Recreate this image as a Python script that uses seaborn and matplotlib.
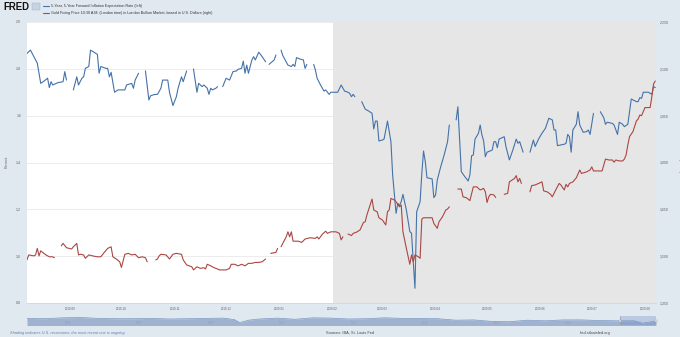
import numpy as np
import pandas as pd
import matplotlib.pyplot as plt
from matplotlib.lines import Line2D
from matplotlib.patches import Rectangle
import seaborn as sns

nan = np.nan

# 5-Year, 5-Year Forward Inflation Expectation Rate (percent, left axis)
infl_dates = [
    '2019-08-07', '2019-08-09', '2019-08-13', '2019-08-15', '2019-08-17', '2019-08-19', '2019-08-20',
    '2019-08-21', '2019-08-22', '2019-08-25', '2019-08-28', '2019-08-29', '2019-08-30',
    '2019-09-01', '2019-09-03', '2019-09-05', '2019-09-06', '2019-09-08', '2019-09-09', '2019-09-10',
    '2019-09-12', '2019-09-13', '2019-09-17', '2019-09-18', '2019-09-19', '2019-09-22', '2019-09-23',
    '2019-09-24', '2019-09-25', '2019-09-27', '2019-09-29',
    '2019-10-03', '2019-10-04', '2019-10-07', '2019-10-08', '2019-10-09', '2019-10-11', '2019-10-13',
    '2019-10-15', '2019-10-17', '2019-10-18', '2019-10-20', '2019-10-22', '2019-10-24', '2019-10-25',
    '2019-10-28', '2019-10-29', '2019-10-31',
    '2019-11-02', '2019-11-03', '2019-11-05', '2019-11-06', '2019-11-08', '2019-11-10', '2019-11-12',
    '2019-11-14', '2019-11-15', '2019-11-17', '2019-11-18', '2019-11-20', '2019-11-21', '2019-11-22',
    '2019-11-23', '2019-11-25', '2019-11-26', '2019-11-28', '2019-11-29',
    '2019-12-01', '2019-12-03', '2019-12-05', '2019-12-07', '2019-12-08', '2019-12-10', '2019-12-11',
    '2019-12-12', '2019-12-13', '2019-12-14', '2019-12-15', '2019-12-16', '2019-12-17', '2019-12-18',
    '2019-12-20', '2019-12-22', '2019-12-24', '2019-12-25', '2019-12-26', '2019-12-29', '2019-12-30',
    '2020-01-01', '2020-01-02', '2020-01-03', '2020-01-06', '2020-01-08', '2020-01-09', '2020-01-10',
    '2020-01-11', '2020-01-13', '2020-01-15', '2020-01-16', '2020-01-17', '2020-01-20', '2020-01-21',
    '2020-01-22', '2020-01-23', '2020-01-25', '2020-01-27', '2020-01-28', '2020-01-30', '2020-01-31',
    '2020-02-04', '2020-02-06', '2020-02-08', '2020-02-10', '2020-02-11', '2020-02-12', '2020-02-13',
    '2020-02-14', '2020-02-17', '2020-02-18', '2020-02-20', '2020-02-22', '2020-02-24', '2020-02-25',
    '2020-02-26', '2020-02-27', '2020-02-28',
    '2020-03-01', '2020-03-02', '2020-03-04', '2020-03-06', '2020-03-07', '2020-03-09', '2020-03-10',
    '2020-03-11', '2020-03-12', '2020-03-13', '2020-03-15', '2020-03-17', '2020-03-18', '2020-03-19',
    '2020-03-20', '2020-03-21', '2020-03-22', '2020-03-23', '2020-03-24', '2020-03-25', '2020-03-26',
    '2020-03-27', '2020-03-30', '2020-03-31',
    '2020-04-01', '2020-04-02', '2020-04-04', '2020-04-06', '2020-04-08', '2020-04-09', '2020-04-10',
    '2020-04-13', '2020-04-14', '2020-04-16', '2020-04-18', '2020-04-20', '2020-04-21', '2020-04-22',
    '2020-04-23', '2020-04-24', '2020-04-26', '2020-04-27', '2020-04-28', '2020-04-29', '2020-04-30',
    '2020-05-01', '2020-05-04', '2020-05-05', '2020-05-06', '2020-05-07', '2020-05-08', '2020-05-11',
    '2020-05-12', '2020-05-14', '2020-05-16', '2020-05-18', '2020-05-19', '2020-05-20', '2020-05-22',
    '2020-05-25', '2020-05-26', '2020-05-28', '2020-05-29', '2020-05-31',
    '2020-06-02', '2020-06-04', '2020-06-06', '2020-06-08', '2020-06-09', '2020-06-10', '2020-06-11',
    '2020-06-15', '2020-06-16', '2020-06-17', '2020-06-18', '2020-06-19', '2020-06-20', '2020-06-22',
    '2020-06-23', '2020-06-24', '2020-06-26', '2020-06-28', '2020-06-29', '2020-06-30',
    '2020-07-02', '2020-07-03', '2020-07-06', '2020-07-08', '2020-07-09', '2020-07-10', '2020-07-13',
    '2020-07-14', '2020-07-16', '2020-07-17', '2020-07-19', '2020-07-20', '2020-07-22', '2020-07-24',
    '2020-07-27', '2020-07-28', '2020-07-29', '2020-07-30', '2020-07-31',
    '2020-08-03', '2020-08-05', '2020-08-06', '2020-08-07',
]
infl_values = [
    1.866, 1.880, 1.824, 1.738, 1.748, 1.760, 1.720,
    1.745, 1.731, 1.741, 1.745, 1.788, 1.752,
    nan, 1.710, 1.766, 1.731, 1.760, 1.766, 1.802,
    1.810, 1.880, 1.862, 1.781, 1.810, 1.802, 1.802,
    1.766, 1.785, 1.700, 1.710,
    1.710, 1.731, 1.738, 1.717, 1.752, 1.781, nan,
    1.791, 1.667, 1.685, 1.690, 1.691, 1.717, 1.752,
    1.752, 1.700, 1.643,
    1.681, 1.717, 1.766, 1.745, 1.791, nan, 1.799,
    1.700, 1.738, 1.724, 1.731, 1.717, 1.691, 1.717,
    1.710, 1.717, 1.724, nan, 1.724,
    1.760, 1.752, 1.788, 1.791, 1.798, 1.802, 1.833,
    1.781, 1.816, 1.781, 1.810, 1.838, 1.852, 1.838,
    1.871, 1.852, 1.830, nan, 1.819, 1.838, 1.859,
    nan, 1.880, 1.857, 1.816, 1.810, 1.819, 1.810,
    1.848, 1.842, 1.838, 1.802, 1.819, nan, 1.819,
    1.795, 1.760, 1.731, 1.705, 1.710, 1.691, 1.700,
    1.700, 1.731, 1.705, 1.700, 1.695, 1.681, 1.691,
    1.681, nan, 1.660, 1.628, 1.620, 1.610, 1.543,
    1.577, 1.577, 1.492,
    1.496, 1.500, 1.577, 1.489, 1.347, 1.183, 1.226,
    1.216, 1.233, 1.264, 1.197, 1.105, 1.098, 0.977,
    0.863, 1.190, 1.211, 1.233, 1.354, 1.449, 1.404,
    1.335, 1.330, 1.250,
    1.261, 1.325, 1.382, 1.432, 1.489, 1.560, nan,
    1.582, 1.638, 1.361, 1.340, 1.321, 1.347, 1.429,
    1.432, 1.500, 1.525, 1.560, 1.518, 1.492, 1.425,
    1.444, 1.453, 1.489, 1.489, 1.463, 1.500, 1.510,
    1.468, 1.411, 1.453, 1.500, 1.482, 1.489, 1.444,
    nan, 1.444, 1.496, 1.468, 1.500,
    1.525, 1.546, 1.589, 1.582, 1.539, 1.539, 1.472,
    1.478, 1.482, 1.520, 1.510, 1.444, 1.539, 1.563,
    1.617, 1.560, 1.529, 1.532, 1.539, 1.520,
    1.610, nan, 1.617, 1.591, 1.563, 1.572, 1.567,
    1.560, 1.520, 1.572, 1.563, 1.553, 1.563, 1.671,
    1.660, 1.660, 1.677, 1.674, 1.700,
    1.700, 1.691, 1.724, 1.720,
]

# Gold Fixing Price 10:30 A.M. London (U.S. dollars, right axis)
gold_dates = [
    '2019-08-07', '2019-08-08', '2019-08-11', '2019-08-12', '2019-08-13', '2019-08-14', '2019-08-15',
    '2019-08-18', '2019-08-20', '2019-08-22', '2019-08-23', '2019-08-26', '2019-08-27', '2019-08-28',
    '2019-08-30',
    '2019-09-02', '2019-09-03', '2019-09-05', '2019-09-06', '2019-09-07', '2019-09-09', '2019-09-10',
    '2019-09-12', '2019-09-15', '2019-09-17', '2019-09-19', '2019-09-21', '2019-09-23', '2019-09-25',
    '2019-09-26', '2019-09-28', '2019-09-30',
    '2019-10-01', '2019-10-03', '2019-10-05', '2019-10-07', '2019-10-09', '2019-10-11', '2019-10-13',
    '2019-10-15', '2019-10-16', '2019-10-18', '2019-10-21', '2019-10-22', '2019-10-23', '2019-10-24',
    '2019-10-27', '2019-10-29', '2019-10-31',
    '2019-11-02', '2019-11-05', '2019-11-06', '2019-11-08', '2019-11-11', '2019-11-12', '2019-11-14',
    '2019-11-16', '2019-11-18', '2019-11-19', '2019-11-20', '2019-11-22', '2019-11-24', '2019-11-26',
    '2019-11-27',
    '2019-12-01', '2019-12-03', '2019-12-04', '2019-12-06', '2019-12-08', '2019-12-10', '2019-12-12',
    '2019-12-14', '2019-12-16', '2019-12-18', '2019-12-20', '2019-12-22', '2019-12-24', '2019-12-25',
    '2019-12-27', '2019-12-30', '2019-12-31',
    '2020-01-01', '2020-01-02', '2020-01-03', '2020-01-05', '2020-01-06', '2020-01-07', '2020-01-08',
    '2020-01-09', '2020-01-12', '2020-01-14', '2020-01-16', '2020-01-19', '2020-01-22', '2020-01-23',
    '2020-01-24', '2020-01-26', '2020-01-28', '2020-01-29', '2020-01-31',
    '2020-02-03', '2020-02-05', '2020-02-06', '2020-02-07', '2020-02-08', '2020-02-10', '2020-02-12',
    '2020-02-13', '2020-02-15', '2020-02-17', '2020-02-19', '2020-02-20', '2020-02-21', '2020-02-24',
    '2020-02-25', '2020-02-27', '2020-02-28',
    '2020-03-01', '2020-03-03', '2020-03-04', '2020-03-05', '2020-03-06', '2020-03-08', '2020-03-09',
    '2020-03-11', '2020-03-12', '2020-03-13', '2020-03-15', '2020-03-17', '2020-03-18', '2020-03-19',
    '2020-03-20', '2020-03-22', '2020-03-23', '2020-03-24', '2020-03-25', '2020-03-28', '2020-03-30',
    '2020-03-31',
    '2020-04-02', '2020-04-03', '2020-04-05', '2020-04-06', '2020-04-07', '2020-04-08', '2020-04-09',
    '2020-04-10', '2020-04-14', '2020-04-16', '2020-04-17', '2020-04-19', '2020-04-21', '2020-04-23',
    '2020-04-25', '2020-04-27', '2020-04-29', '2020-04-30',
    '2020-05-01', '2020-05-02', '2020-05-03', '2020-05-05', '2020-05-06', '2020-05-08', '2020-05-11',
    '2020-05-13', '2020-05-14', '2020-05-17', '2020-05-18', '2020-05-19', '2020-05-20', '2020-05-21',
    '2020-05-25', '2020-05-26', '2020-05-27', '2020-05-29', '2020-05-31',
    '2020-06-02', '2020-06-03', '2020-06-05', '2020-06-07', '2020-06-08', '2020-06-10', '2020-06-12',
    '2020-06-13', '2020-06-15', '2020-06-16', '2020-06-17', '2020-06-18', '2020-06-20', '2020-06-22',
    '2020-06-24', '2020-06-25', '2020-06-28', '2020-06-30',
    '2020-07-01', '2020-07-02', '2020-07-04', '2020-07-07', '2020-07-09', '2020-07-11', '2020-07-13',
    '2020-07-14', '2020-07-15', '2020-07-17', '2020-07-19', '2020-07-20', '2020-07-21', '2020-07-22',
    '2020-07-23', '2020-07-25', '2020-07-27', '2020-07-28', '2020-07-29', '2020-07-30', '2020-07-31',
    '2020-08-01', '2020-08-03', '2020-08-04', '2020-08-05', '2020-08-06', '2020-08-07',
]
gold_values = [
    1488, 1504, 1501, 1504, 1525, 1501, 1517,
    1504, 1498, 1498, 1495, nan, 1533, 1541,
    1527,
    1523, 1530, 1541, 1504, 1506, 1504, 1493,
    1504, 1500, 1498, 1498, 1512, 1525, 1530,
    1498, 1491, 1482,
    1464, 1506, 1509, 1504, 1506, 1495, 1498,
    1495, 1482, nan, 1488, 1491, 1501, 1506,
    1504, 1491, 1506,
    1509, 1506, 1488, 1472, 1466, 1456, 1466,
    1461, 1463, 1459, 1474, 1469, 1463, 1459,
    1456,
    1456, 1461, 1474, 1474, 1469, 1474, 1469,
    1477, 1477, 1480, 1480, 1482, 1491, nan,
    1509, 1512, 1525,
    nan, 1530, 1541, 1562, 1578, 1562, 1578,
    1548, 1548, 1544, 1555, 1559, 1557, 1562,
    1555, 1570, 1580, 1573, 1578,
    1578, 1573, 1552, 1562, nan, 1571, 1566,
    1573, 1577, 1584, 1608, 1610, 1632, 1683,
    1648, 1642, 1623,
    1616, 1600, 1642, 1648, 1685, 1680, 1674,
    1658, 1664, 1578, 1525, 1474, 1504, 1482,
    1504, 1498, 1493, 1619, 1623, 1623, 1623,
    1605,
    1589, 1610, 1626, 1637, 1648, 1651, 1658,
    nan, 1715, 1715, 1690, 1687, 1678, 1722,
    1722, 1712, 1717, 1706,
    1672, 1690, 1698, 1696, 1688, nan, 1698,
    1701, 1738, 1749, 1758, 1738, 1749, 1733,
    nan, 1706, 1726, 1728, 1733,
    1738, 1709, 1706, 1698, 1690, 1712, 1733,
    1728, 1712, 1730, 1722, 1733, 1738, 1751,
    1776, 1765, 1770, 1776,
    1786, 1773, 1773, 1773, 1811, 1808, 1808,
    1801, 1808, 1805, 1805, 1811, 1824, 1856,
    1883, 1899, 1933, 1939, 1952, 1950, 1963,
    1976, 1976, 1976, 2011, 2052, 2061,
]

# overview strip under the chart: long history of the inflation series (rough)
nav_years = [2003.0, 2003.5, 2004.0, 2004.5, 2005.0, 2005.5, 2006.0, 2006.5, 2007.0, 2007.5,
             2008.0, 2008.5, 2008.8, 2008.95, 2009.2, 2009.5, 2010.0, 2010.5, 2011.0, 2011.5,
             2012.0, 2012.5, 2013.0, 2013.5, 2014.0, 2014.5, 2015.0, 2015.5, 2016.0, 2016.5,
             2017.0, 2017.5, 2018.0, 2018.5, 2019.0, 2019.5, 2020.0, 2020.2, 2020.6]
nav_values = [2.6, 2.5, 2.8, 2.9, 2.6, 2.5, 2.5, 2.6, 2.4, 2.5,
              2.6, 2.7, 2.2, 1.2, 2.0, 2.4, 2.7, 2.3, 2.8, 2.7,
              2.4, 2.5, 2.8, 2.6, 2.6, 2.5, 2.0, 2.1, 1.6, 1.5,
              2.0, 1.8, 2.1, 2.1, 1.9, 1.8, 1.8, 1.0, 1.7]
nav_labels = [2004, 2006, 2008, 2010, 2012, 2014, 2016, 2018, 2020]
nav_window = (2019.6, 2020.6)

left_ticks = [0.8, 1.0, 1.2, 1.4, 1.6, 1.8, 2.0]
right_ticks = [1350, 1500, 1650, 1800, 1950, 2100, 2250]
month_ticks = ['2019-09', '2019-10', '2019-11', '2019-12', '2020-01', '2020-02',
               '2020-03', '2020-04', '2020-05', '2020-06', '2020-07', '2020-08']


def to_frame(dates, values):
    df = pd.DataFrame({'date': pd.to_datetime(dates), 'value': values})
    df['seg'] = df['value'].isna().cumsum()  # missing days break the line
    return df.dropna()


infl = to_frame(infl_dates, infl_values)
gold = to_frame(gold_dates, gold_values)

sns.set_style('white')
plt.rcParams['font.family'] = ['Liberation Sans', 'DejaVu Sans']

W, H = 680, 337
bg = '#e1e9f0'
blue = '#4572a7'
red = '#aa4643'
grey_txt = '#606060'

fig = plt.figure(figsize=(W / 100, H / 100), dpi=100, facecolor=bg)
ax = fig.add_axes([27 / W, 1 - 303 / H, 629 / W, 281 / H])
ax.set_facecolor('white')
ax2 = ax.twinx()

x0, x1 = pd.Timestamp('2019-08-07'), pd.Timestamp('2020-08-07 10:00')

# recession shading
ax.axvspan(pd.Timestamp('2020-02-01'), x1, color='#e6e6e6', lw=0, zorder=1)

sns.lineplot(data=infl, x='date', y='value', units='seg', estimator=None,
             color=blue, lw=0.8, ax=ax, zorder=3)
sns.lineplot(data=gold, x='date', y='value', units='seg', estimator=None,
             color=red, lw=0.8, ax=ax2, zorder=3)

ax.set_xlim(x0, x1)
ax.set_ylim(0.8, 2.0)
ax2.set_ylim(1350, 2250)
ax.set_yticks(left_ticks)
ax.set_yticklabels([f'{v:.1f}' for v in left_ticks])
ax2.set_yticks(right_ticks)
ax2.set_yticklabels([f'{v:,}' for v in right_ticks])
ax.set_xticks(pd.to_datetime([m + '-01' for m in month_ticks]))
ax.set_xticklabels(month_ticks)

ax.set_axisbelow(True)
ax.yaxis.grid(True, color='#ececec', lw=0.7)
ax.xaxis.grid(False)
for a in (ax, ax2):
    a.set_xlabel('')
    a.set_ylabel('')
    for s in a.spines.values():
        s.set_visible(False)
ax.spines['bottom'].set_visible(True)
ax.spines['bottom'].set_color('#ccd6eb')
ax.spines['bottom'].set_linewidth(0.6)

ax.tick_params(axis='y', length=0, pad=4.2, labelsize=2.5, labelcolor=grey_txt)
ax.tick_params(axis='x', length=0, pad=3.0, labelsize=2.2, labelcolor=grey_txt)
ax2.tick_params(axis='y', length=0, pad=3.0, labelsize=2.5, labelcolor=grey_txt)

fig.text(7 / W, 1 - 162 / H, 'Percent', rotation=90, ha='center', va='center',
         fontsize=2.6, color=grey_txt)
fig.text(679.5 / W, 1 - 162 / H, 'U.S. Dollars per Troy Ounce', rotation=270,
         ha='center', va='center', fontsize=2.6, color=grey_txt)

# header: logo and legend
fig.text(3 / W, 1 - 7.5 / H, 'FRED', fontsize=6.9, fontweight='heavy', color='#111111',
         va='center', ha='left')
fig.add_artist(Rectangle((31.5 / W, 1 - 10 / H), 8 / W, 7 / H, transform=fig.transFigure,
                         facecolor='#c5d3e2', edgecolor='#9fb3c8', lw=0.3))
legend_rows = [(blue, '5-Year, 5-Year Forward Inflation Expectation Rate (left)', 5.7),
               (red, 'Gold Fixing Price 10:30 A.M. (London time) in London Bullion Market, '
                     'based in U.S. Dollars (right)', 13.0)]
for col, label, yy in legend_rows:
    fig.add_artist(Line2D([43 / W, 49 / W], [1 - yy / H, 1 - yy / H], color=col, lw=0.8,
                          transform=fig.transFigure))
    fig.text(51 / W, 1 - yy / H, label, fontsize=2.7, color='#333333', va='center', ha='left')

# overview strip
nav = fig.add_axes([27 / W, 1 - 325 / H, 629 / W, 9 / H])
nav.set_facecolor(bg)
nav_df = pd.DataFrame({'year': nav_years, 'value': nav_values})
nav.fill_between(nav_df['year'], nav_df['value'], 0, color='#9fb3d1', lw=0)
sns.lineplot(data=nav_df, x='year', y='value', color='#7b96c2', lw=0.5, ax=nav)
nav.axvspan(*nav_window, color='#6685c2', alpha=0.3, lw=0)
nav.set_xlim(2003.0, 2020.6)
nav.set_ylim(0.4, 3.4)
nav.set_axis_off()
for edge in nav_window:
    nav.axvline(edge, color='#999999', lw=0.4)
    nav.plot([edge], [1.9], marker='s', ms=1.6, mfc='#f2f2f2', mec='#999999', mew=0.3,
             clip_on=False)
for yr in nav_labels:
    nav.text(yr + 0.05, 0.9, str(yr), fontsize=2.0, color='#8da1bf', ha='left', va='center')

# footer
fig.text(10 / W, 1 - 333 / H, 'Shading indicates U.S. recessions; the most recent one is ongoing.',
         fontsize=2.8, color='#5b7bb0', style='italic', ha='left', va='center')
fig.text(350 / W, 1 - 333 / H, 'Sources: IBA, St. Louis Fed', fontsize=2.8, color='#444444',
         ha='center', va='center')
fig.text(595 / W, 1 - 333 / H, 'fred.stlouisfed.org', fontsize=2.8, color='#444444',
         ha='center', va='center')

fig.savefig('out.png', dpi=100, facecolor=bg)
